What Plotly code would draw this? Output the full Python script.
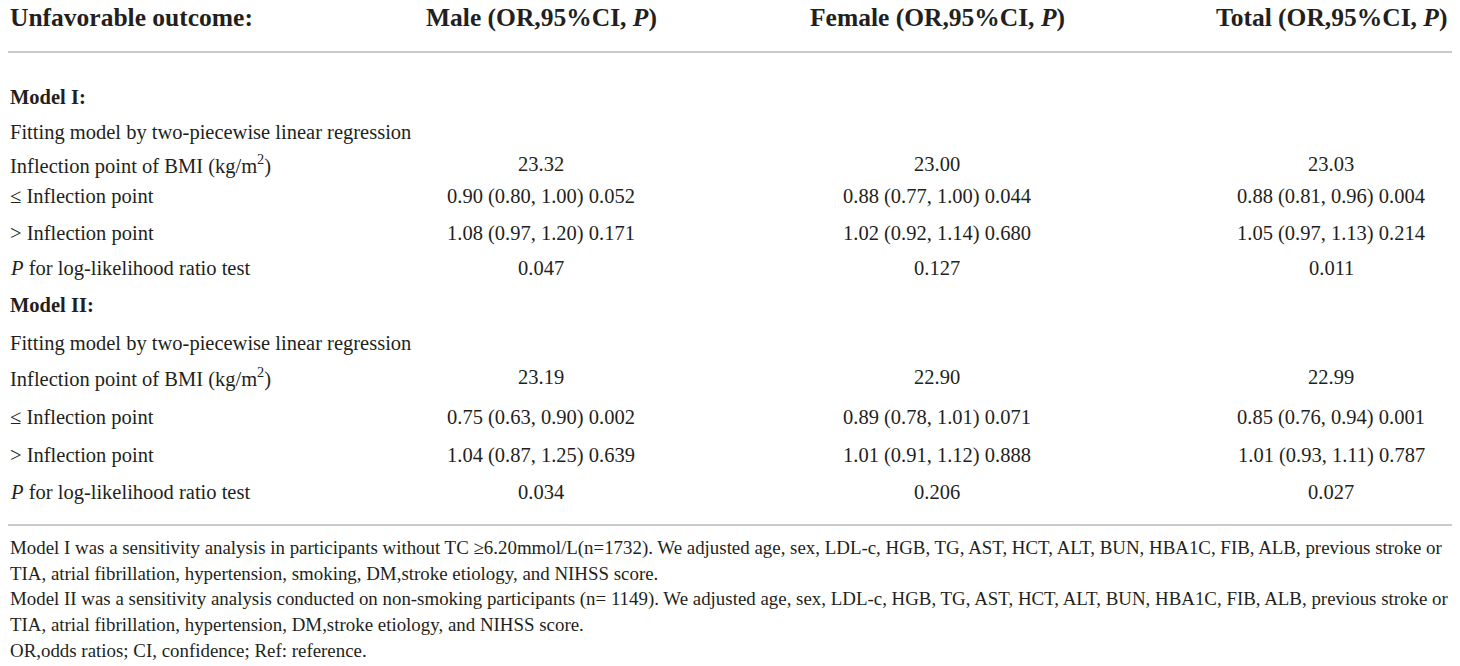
import plotly.graph_objects as go

W, H = 1460, 666

headers = ["Unfavorable outcome:",
           "Male (OR,95%CI, <i>P</i>)",
           "Female (OR,95%CI, <i>P</i>)",
           "Total (OR,95%CI, <i>P</i>)"]

row_labels = ["<b>Model I:</b>",
              "Fitting model by two-piecewise linear regression",
              "Inflection point of BMI (kg/m<sup>2</sup>)",
              "≤ Inflection point",
              "> Inflection point",
              "<i>P</i> for log-likelihood ratio test",
              "<b>Model II:</b>",
              "Fitting model by two-piecewise linear regression",
              "Inflection point of BMI (kg/m<sup>2</sup>)",
              "≤ Inflection point",
              "> Inflection point",
              "<i>P</i> for log-likelihood ratio test"]

male = ["", "", "23.32", "0.90 (0.80, 1.00) 0.052", "1.08 (0.97, 1.20) 0.171", "0.047",
        "", "", "23.19", "0.75 (0.63, 0.90) 0.002", "1.04 (0.87, 1.25) 0.639", "0.034"]
female = ["", "", "23.00", "0.88 (0.77, 1.00) 0.044", "1.02 (0.92, 1.14) 0.680", "0.127",
          "", "", "22.90", "0.89 (0.78, 1.01) 0.071", "1.01 (0.91, 1.12) 0.888", "0.206"]
total = ["", "", "23.03", "0.88 (0.81, 0.96) 0.004", "1.05 (0.97, 1.13) 0.214", "0.011",
         "", "", "22.99", "0.85 (0.76, 0.94) 0.001", "1.01 (0.93, 1.11) 0.787", "0.027"]

footnotes = [
    "Model I was a sensitivity analysis in participants without TC ≥6.20mmol/L(n=1732). We adjusted age, sex, LDL-c, HGB, TG, AST, HCT, ALT, BUN, HBA1C, FIB, ALB, previous stroke or",
    "TIA, atrial fibrillation, hypertension, smoking, DM,stroke etiology, and NIHSS score.",
    "Model II was a sensitivity analysis conducted on non-smoking participants (n= 1149). We adjusted age, sex, LDL-c, HGB, TG, AST, HCT, ALT, BUN, HBA1C, FIB, ALB, previous stroke or",
    "TIA, atrial fibrillation, hypertension, DM,stroke etiology, and NIHSS score.",
    "OR,odds ratios; CI, confidence; Ref: reference.",
]

# layout (pixel positions in the page)
row_y = [97, 132, 164, 196, 233, 268, 305, 343, 377, 417, 455, 492]
col_x = [541, 937, 1331]
foot_y = [548, 573, 599, 624, 650]
FONT = "Liberation Serif"
INK = "#231f20"
LINE = "#b8b8b8"

fig = go.Figure()

ann = []
ann.append(dict(x=8, y=17, text="<b>" + headers[0] + "</b>", xanchor="left",
                font=dict(size=25.5)))
for cx, h in zip(col_x, headers[1:]):
    ann.append(dict(x=cx, y=17, text="<b>" + h + "</b>", xanchor="center",
                    font=dict(size=25.5)))

for i, lab in enumerate(row_labels):
    ann.append(dict(x=8, y=row_y[i], text=lab, xanchor="left", font=dict(size=20.5)))
    for cx, col in zip(col_x, [male, female, total]):
        if col[i]:
            ann.append(dict(x=cx, y=row_y[i], text=col[i], xanchor="center",
                            font=dict(size=20.5)))

for fy, t in zip(foot_y, footnotes):
    ann.append(dict(x=8, y=fy, text=t, xanchor="left", font=dict(size=18.9)))

for a in ann:
    a.update(xref="x", yref="y", showarrow=False, yanchor="middle")
    a["font"].update(family=FONT, color=INK)

fig.update_layout(
    width=W, height=H,
    margin=dict(l=0, r=0, t=0, b=0),
    paper_bgcolor="white", plot_bgcolor="white",
    xaxis=dict(range=[0, W], visible=False, fixedrange=True),
    yaxis=dict(range=[H, 0], visible=False, fixedrange=True),
    annotations=ann,
    shapes=[
        dict(type="line", xref="x", yref="y", x0=8, x1=1452, y0=52, y1=52,
             line=dict(color=LINE, width=1.5)),
        dict(type="line", xref="x", yref="y", x0=8, x1=1452, y0=525, y1=525,
             line=dict(color=LINE, width=1.5)),
    ],
    showlegend=False,
)

# drop the default 8px page margin so the figure fills the window
fig.write_html("out.html", config={"displayModeBar": False},
               post_script="document.body.style.margin='0';document.body.style.overflow='hidden';")
